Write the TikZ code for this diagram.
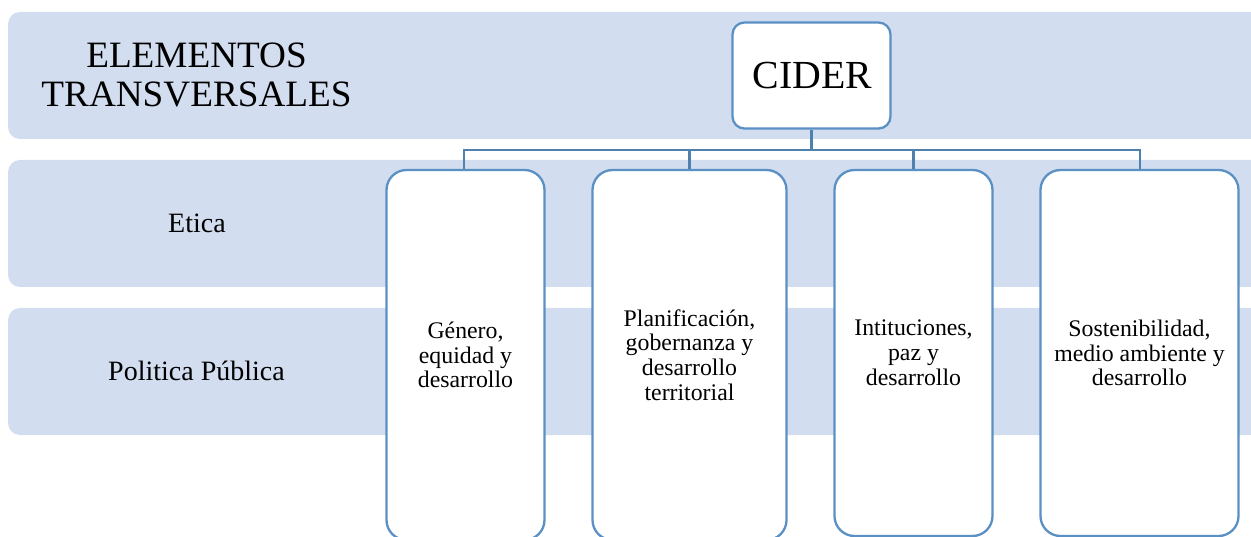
\documentclass[tikz,border=0pt]{standalone}
\usepackage{fontspec}
\setmainfont{Liberation Serif}
\definecolor{bandc}{HTML}{D2DDEF}
\definecolor{linec}{HTML}{5B90C4}
\definecolor{busc}{HTML}{4F81AE}
\tikzset{
  band/.style={fill=bandc,draw=none,rounded corners=12pt},
  card/.style={draw=linec,line width=2.3pt,fill=white,rounded corners=20pt,inner sep=0pt,align=center,font=\fontsize{23.8}{24.8}\selectfont},
  rootcard/.style={draw=linec,line width=2.3pt,fill=white,rounded corners=12pt,inner sep=0pt,align=center,font=\fontsize{39.8}{40}\selectfont},
  bandlabel/.style={inner sep=0pt,align=center,font=\fontsize{28}{30}\selectfont},
  link/.style={draw=busc,line width=2pt},
}
\begin{document}
\begin{tikzpicture}[x=1pt,y=-1pt]
\useasboundingbox (0,0) rectangle (1251,537);
\begin{scope}
\clip (0,0) rectangle (1251,537);
\fill[band] (8,12) rectangle (1290,139);
\fill[band] (8,160) rectangle (1290,287);
\fill[band] (8,308) rectangle (1290,435);
\node[bandlabel,font=\fontsize{37.2}{38.2}\selectfont] (title) at (196.5,75) {ELEMENTOS\\TRANSVERSALES};
\node[bandlabel] (etica) at (197,223) {Etica};
\node[bandlabel] (pol) at (196.5,371) {Politica Pública};
\node[rootcard,minimum width=158pt,minimum height=106pt,text height=26pt,text depth=0.5pt] (root) at (811.5,75.5) {\hspace{1.5pt}CIDER};
\coordinate (bus) at (811.5,150);
\node[card,minimum width=158pt,minimum height=370pt] (a) at (465.5,355) {Género,\\equidad y\\desarrollo};
\node[card,minimum width=194pt,minimum height=370pt] (b) at (689.5,355) {Planificación,\\gobernanza y\\desarrollo\\territorial};
\node[card,minimum width=158pt,minimum height=366pt] (c) at (913.5,353) {Intituciones,\\paz y\\desarrollo};
\node[card,minimum width=198pt,minimum height=366pt] (d) at (1139.5,353) {Sostenibilidad,\\medio ambiente y\\desarrollo};
\draw[link,line width=3pt] (root.south) -- (bus);
\draw[link,line width=2pt] (d.north) |- (bus);
\draw[link,line width=2.4pt] (c.north) |- (bus);
\draw[link,line width=2.8pt] (b.north) |- (bus);
\draw[link,line width=2.8pt] ([xshift=-1.5pt]a.north) |- (bus);
\end{scope}
\end{tikzpicture}
\end{document}
